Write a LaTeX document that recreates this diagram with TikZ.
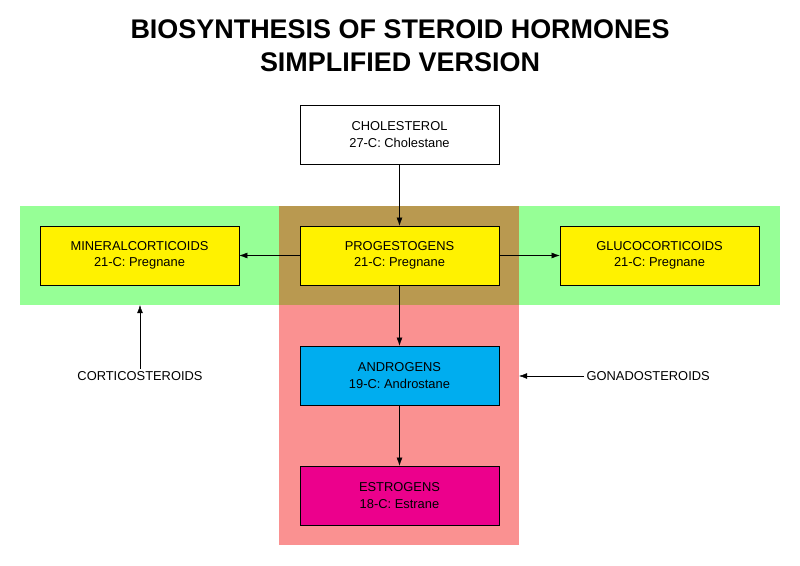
\documentclass[tikz,border=0pt]{standalone}
\usepackage{fontspec}
\setmainfont{Liberation Sans}
\usetikzlibrary{arrows.meta}
\definecolor{bandgreen}{RGB}{150,255,150}
\definecolor{bandred}{RGB}{250,145,145}
\definecolor{bandmix}{RGB}{185,153,80}
\tikzset{
  hormone/.style={draw=black, minimum width=5.97cm, minimum height=1.77cm, align=center, font=\fontsize{11}{14}\selectfont, inner sep=0pt},
  link/.style={-{Latex[length=7pt,width=5pt]}, black},
  tag/.style={font=\fontsize{11}{14}\selectfont, inner sep=2pt}
}
\begin{document}
\begin{tikzpicture}[x=0.03cm, y=-0.03cm]
\useasboundingbox (0,0) rectangle (800,566);
% bands
\fill [bandgreen] (20,206) rectangle (780,305);
\fill [bandred] (279,206) rectangle (519,545);
\fill [bandmix] (279,206) rectangle (519,305);
% title
\node [font=\bfseries\fontsize{23}{28}\selectfont, align=center] (title) at (400,46) {BIOSYNTHESIS OF STEROID HORMONES\\SIMPLIFIED VERSION};
% hormones
\node [hormone, fill=white] (chol) at (399.5,134.5) {CHOLESTEROL\\27-C: Cholestane};
\node [hormone, fill=yellow] (prog) at (399.5,255.5) {PROGESTOGENS\\21-C: Pregnane};
\node [hormone, fill=yellow] (mineral) at (139.5,255.5) {MINERALCORTICOIDS\\21-C: Pregnane};
\node [hormone, fill=yellow] (gluco) at (659.5,255.5) {GLUCOCORTICOIDS\\21-C: Pregnane};
\node [hormone, fill=cyan] (andro) at (399.5,375.5) {ANDROGENS\\19-C: Androstane};
\node [hormone, fill=magenta] (estro) at (399.5,495.5) {ESTROGENS\\18-C: Estrane};
\draw [link] (chol) -- (prog);
\draw [link] (prog) -- (mineral);
\draw [link] (prog) -- (gluco);
\draw [link] (prog) -- (andro);
\draw [link] (andro) -- (estro);
% group labels
\node [tag] (cortico) at (140,376) {CORTICOSTEROIDS};
\coordinate (greenedge) at (140,305);
\draw [link] (cortico.north) -- (greenedge);
\node [tag, anchor=west] (gonado) at (584,376) {GONADOSTEROIDS};
\coordinate (rededge) at (519,376);
\draw [link] (gonado.west) -- (rededge);
\end{tikzpicture}
\end{document}
